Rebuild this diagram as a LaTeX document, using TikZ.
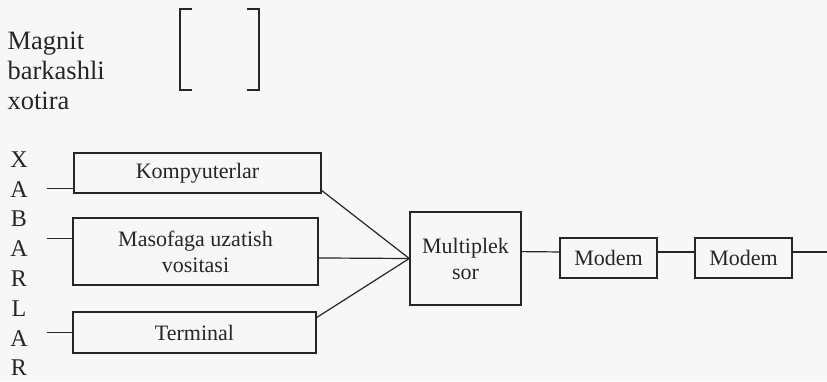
\documentclass[tikz,border=0pt]{standalone}
\usepackage{fontspec}
\setmainfont{Liberation Serif}
\tikzset{
  blok/.style={draw, line width=1.4pt, rectangle, inner sep=2pt, align=center,
    font=\fontsize{22}{26}\selectfont},
  harf/.style={inner sep=0pt, font=\fontsize{26.5}{30}\selectfont}
}
\begin{document}
\begin{tikzpicture}[x=1pt, y=-1pt, line width=1.2pt, color=black!85]
    \fill[black!3] (0,0) rectangle (827,381);
    \useasboundingbox (0,0) rectangle (827,381);

    % magnit xotira
    \node[harf, align=left, anchor=north west] (magnit) at (7,31) {Magnit\\barkashli\\xotira};
    \coordinate (tl) at (180,9);
    \coordinate (bl) at (180,90);
    \coordinate (tr) at (259,9);
    \coordinate (br) at (259,90);
    \draw (tl) ++(12,0) -- (tl) -- (bl) -- ++(12,0);
    \draw (tr) ++(-12,0) -- (tr) -- (br) -- ++(-12,0);

    % xabarlar
    \node[harf, align=center, anchor=north, font=\fontsize{24}{29.8}\selectfont] (xabar) at (19,151)
        {X\\A\\B\\A\\R\\L\\A\\R};
    \coordinate (kirish) at (47,0);
    \coordinate (chiqish) at (827,0);

    \node[blok, minimum width=247, minimum height=40] (komp) at (197.5,173) {Kompyuterlar};
    \node[blok, minimum width=245, minimum height=67] (masof) at (195.5,251.5) {Masofaga uzatish\\vositasi};
    \node[blok, minimum width=243, minimum height=41] (term) at (194.5,332.5) {Terminal};
    \node[blok, minimum width=111, minimum height=93] (mux) at (465.5,258.5) {Multiplek\\sor};
    \node[blok, minimum width=97, minimum height=40] (modem1) at (608.5,258) {Modem};
    \node[blok, minimum width=97, minimum height=40] (modem2) at (743.5,258) {Modem};

    \draw (komp.187) -- (komp.187 -| kirish);
    \draw (masof.174) -- (masof.174 -| kirish);
    \draw (term.west) -- (term.west -| kirish);

    \draw (komp.-8) -- (mux.west);
    \draw (masof.-3) -- (mux.west);
    \draw (term.7) -- (mux.west);

    \draw (mux.7) -- (modem1.173);
    \draw (modem1.7) -- (modem2.173);
    \draw (modem2.7) -- (modem2.7 -| chiqish);
\end{tikzpicture}
\end{document}
